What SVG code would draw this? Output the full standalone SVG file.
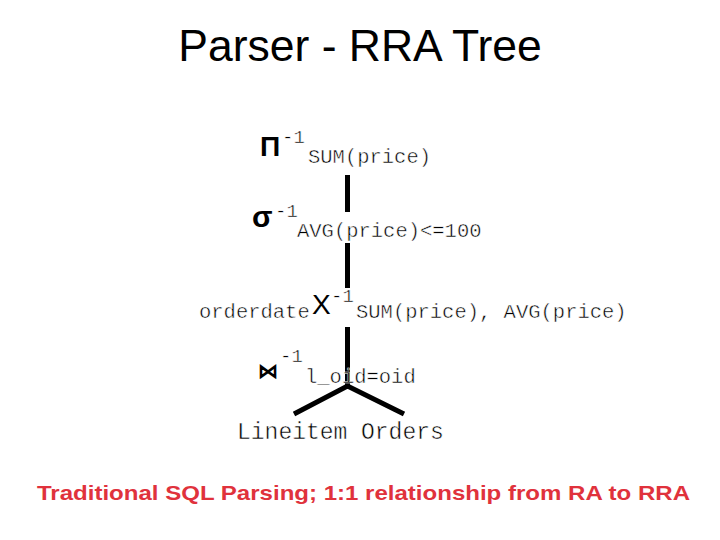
<svg xmlns="http://www.w3.org/2000/svg" width="720" height="540" viewBox="0 0 720 540">
<style>
.title{font-family:"Liberation Sans",Arial,sans-serif;font-size:44.5px;fill:#000}
.op{font-family:"Liberation Sans",Arial,sans-serif;fill:#000}
.mono{font-family:"Liberation Mono","Courier New",monospace;font-size:20.5px;fill:#000;stroke:#fff;stroke-width:0.5px}
.sup{font-family:"Liberation Mono","Courier New",monospace;font-size:19px;fill:#000;stroke:#fff;stroke-width:0.5px}
.leaf{font-family:"Liberation Mono","Courier New",monospace;font-size:23px;fill:#000;stroke:#fff;stroke-width:0.5px}
.note{font-family:"Liberation Sans",Arial,sans-serif;font-size:21px;font-weight:bold;fill:#e0323c}
.edge{stroke:#000;stroke-width:5;fill:none}
</style>
<rect width="720" height="540" fill="#fff"/>
<text class="title" x="360" y="61" text-anchor="middle">Parser - RRA Tree</text>
<g id="connectors">
<line class="edge" x1="347.5" y1="175" x2="347.5" y2="212"/>
<line class="edge" x1="347.5" y1="243" x2="347.5" y2="288"/>
<line class="edge" x1="347.5" y1="327" x2="347.5" y2="386"/>
<polyline class="edge" points="294,414 347.5,386 404,414"/>
</g>
<g id="project">
<text class="op" x="260" y="156" font-size="28" font-weight="bold">Π</text>
<text class="sup" x="282" y="143">-1</text>
<text class="mono" x="308" y="163">SUM(price)</text>
</g>
<g id="select">
<text class="op" x="252" y="227" font-size="30" font-weight="bold">σ</text>
<text class="sup" x="275" y="217">-1</text>
<text class="mono" x="297" y="237">AVG(price)&lt;=100</text>
</g>
<g id="groupby">
<text class="mono" x="199" y="318">orderdate</text>
<text class="op" x="312" y="314" font-size="28">Χ</text>
<text class="sup" x="331" y="302">-1</text>
<text class="mono" x="356" y="318">SUM(price), AVG(price)</text>
</g>
<g id="join">
<text class="op" x="258" y="378" font-size="20" font-weight="bold">⋈</text>
<text class="sup" x="280" y="362">-1</text>
<text class="mono" x="305" y="383">l_oid=oid</text>
</g>
<g id="lineitem">
<text class="leaf" x="237" y="439">Lineitem</text>
</g>
<g id="orders">
<text class="leaf" x="361" y="439">Orders</text>
</g>
<text class="note" x="37" y="500" textLength="653" lengthAdjust="spacingAndGlyphs">Traditional SQL Parsing; 1:1 relationship from RA to RRA</text>
</svg>
